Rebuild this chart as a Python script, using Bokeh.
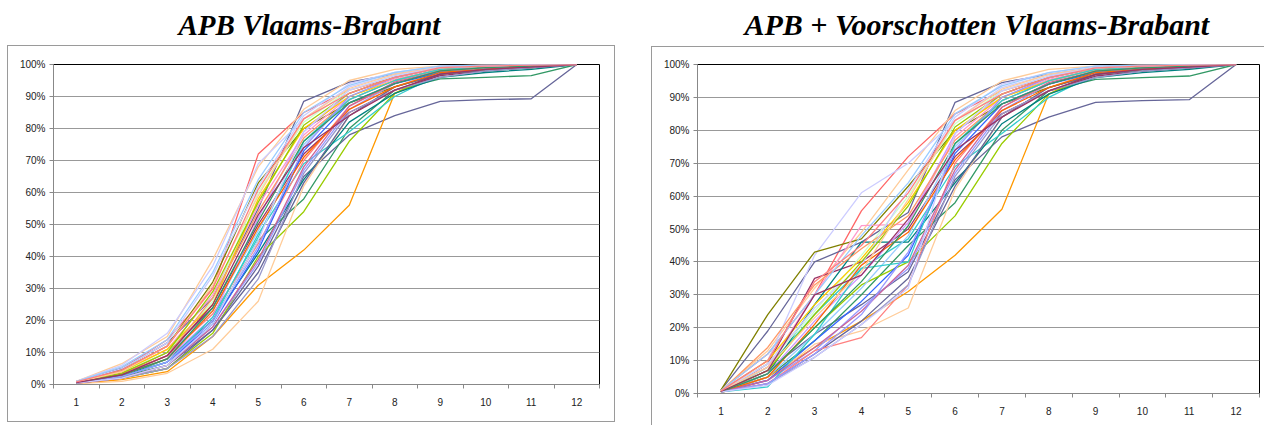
from bokeh.plotting import figure
from bokeh.layouts import row
from bokeh.models import FixedTicker, PrintfTickFormatter, Range1d, Title
from bokeh.embed import file_html
from bokeh.resources import INLINE

months = list(range(1, 13))
half_months = [m - 0.5 for m in range(1, 14)]
y_ticks = list(range(0, 101, 10))

# cumulative share (%) per month, APB only
apb = [
    [0.5, 2, 5, 17, 37, 65, 78, 84, 88.5, 89, 89.3, 100],
    [0.5, 2.5, 6, 19, 45, 58, 80, 92, 95.5, 96, 96.5, 100],
    [0.3, 1.5, 4, 15, 31, 42, 56, 91, 98, 99, 99.5, 100],
    [0.5, 2, 5, 16, 40, 54, 76, 91, 97, 98.5, 99, 100],
    [0.5, 3, 7, 20, 47, 69, 79, 90, 97, 98, 99, 100],
    [1, 5, 14, 30, 72, 85, 92, 96, 99, 99.5, 100, 100],
    [0.3, 1, 3.5, 11, 26, 62, 84, 93, 98, 99, 99.5, 100],
    [1, 5, 13, 27, 55, 88.5, 94.5, 97, 99, 99.5, 99.8, 100],
    [1, 6.5, 15, 39, 68, 86, 95, 98.5, 99.5, 100, 100, 100],
    [1, 6, 16, 37, 69, 83, 93, 97, 99, 99.5, 100, 100],
    [0.8, 4.5, 12, 32, 63, 80, 88, 93, 97, 98.5, 99, 100],
    [0.5, 3.5, 10, 24, 50, 72, 85, 92, 96.5, 98, 99, 100],
    [0.5, 2.5, 8, 20, 41, 64, 82, 91, 96, 97.5, 98.5, 100],
    [0.5, 2.5, 7, 18, 38, 67, 86, 94, 98, 99, 99.5, 100],
    [0.8, 4, 11, 28, 56, 78, 90, 95.5, 98.5, 99.5, 99.8, 100],
    [0.6, 3, 9, 23, 48, 75, 89, 95, 98.5, 99, 99.5, 100],
    [0.7, 4, 10, 26, 60, 82, 92, 96.5, 99, 99.5, 99.8, 100],
    [0.4, 2, 6, 17, 35, 63, 84, 93, 97, 98.5, 99, 100],
    [0.6, 3.5, 9, 22, 44, 70, 87, 94, 98, 99, 99.5, 100],
    [0.5, 3, 8, 21, 52, 79, 91, 96, 99, 99.5, 99.8, 100],
    [0.7, 4, 11, 25, 58, 80, 90, 95, 98.5, 99, 99.5, 100],
    [0.5, 2.5, 7, 19, 42, 73, 88, 94, 97.5, 98.5, 99.5, 100],
    [0.5, 2, 5, 15, 33, 66, 85, 92, 96, 98, 99, 100],
    [0.6, 3, 9, 27, 54, 77, 89, 95, 98.5, 99.5, 99.8, 100],
    [0.8, 5, 13, 34, 62, 84, 94, 97.5, 99.5, 99.8, 100, 100],
    [0.5, 2.5, 7, 21, 46, 76, 89, 95, 98.5, 99, 99.5, 100],
    [0.6, 3.5, 10, 29, 57, 81, 91, 96, 99, 99.5, 99.8, 100],
    [0.5, 3, 8, 23, 49, 71, 86, 93, 97.5, 98.5, 99.5, 100],
    [0.4, 2, 6, 18, 39, 68, 87, 94.5, 98, 99, 99.5, 100],
    [0.9, 5.5, 14, 35, 64, 85, 93.5, 97.5, 99.5, 99.8, 100, 100],
    [0.7, 4, 12, 31, 59, 83, 92.5, 97, 99, 99.5, 99.8, 100],
    [0.5, 2.5, 7, 20, 43, 74, 90, 96, 99, 99.5, 99.8, 100],
    [0.5, 3, 8, 24, 51, 76, 88, 94, 98, 99, 99.5, 100],
    [0.5, 2, 6, 19, 45, 79, 92, 96.5, 99, 99.5, 100, 100],
    [0.6, 3, 9, 25, 53, 74, 84, 92, 97, 98.5, 99.2, 100],
    [0.8, 4.5, 12, 30, 61, 83, 91, 96, 99, 99.5, 99.8, 100],
]

# months 1-5 with voorschotten included; from month 6 on equal to APB
voorschot_start = [
    [0.5, 7, 18, 27, 37],
    [0.5, 5, 16, 30, 45],
    [0.3, 5, 14, 22, 31],
    [0.5, 6, 20, 33, 40],
    [0.5, 8, 24, 38, 47],
    [1, 12, 30, 55.5, 72],
    [0.3, 4, 15, 19, 26],
    [1, 19, 40, 46, 55],
    [1, 13, 32, 49, 68],
    [1, 10, 42, 61, 70],
    [1, 24, 43, 47, 63],
    [0.5, 9, 35, 40, 50],
    [0.5, 6, 27, 46, 46],
    [0.5, 4, 13, 26, 38],
    [0.8, 8, 30, 51, 51.5],
    [0.6, 5, 18, 32, 48],
    [0.7, 9, 25, 42, 60],
    [0.4, 3, 12, 22, 35],
    [0.6, 3, 13, 17, 33],
    [0.5, 6, 22, 36, 52],
    [0.7, 10, 27, 41, 58],
    [0.5, 4, 16, 28, 42],
    [0.5, 3, 11, 21, 33],
    [0.6, 14, 33, 44, 54],
    [0.8, 9, 26, 39, 62],
    [0.5, 2, 18, 38, 40],
    [0.6, 7, 24, 40, 57],
    [0.5, 5, 21, 39, 49],
    [0.4, 4, 14, 25, 39],
    [0.9, 12, 30, 48, 64],
    [0.7, 8, 23, 37, 59],
    [0.5, 3, 12, 24, 43],
    [0.5, 6, 20, 34, 51],
    [0.5, 2.5, 11, 21, 32],
    [0.6, 7, 30, 36, 53],
    [0.8, 10, 34, 45, 61],
]

apb_voorschot = [start + full[5:] for start, full in zip(voorschot_start, apb)]

colors = ["#666699", "#339966", "#FF9900", "#99CC00", "#33CCCC", "#FF6666",
          "#FFCC99", "#666699", "#FFCC99", "#CCCCFF", "#808000", "#993366",
          "#008080", "#9999FF", "#FF99CC", "#99CCFF", "#CCFFCC", "#666699",
          "#FF8080", "#CC99FF", "#FFCC00", "#3366FF", "#9999CC", "#FF9966",
          "#CCCCFF", "#33CCCC", "#99CC00", "#FF6600", "#CC6699", "#99CCFF",
          "#FFCC99", "#9999FF", "#339966", "#CCCCFF", "#993366", "#FF8080"]


def make_chart(title, series, b_left, b_right, b_bottom, t_offset, t_size):
    p = figure(width=632, height=425,
               x_range=Range1d(0.5, 12.5), y_range=Range1d(0, 100),
               output_backend="svg", toolbar_location=None,
               min_border_left=b_left, min_border_right=b_right,
               min_border_bottom=b_bottom, min_border_top=64)
    p.frame_align = False
    for vals, c in zip(series, colors):
        p.line(months, vals, color=c, line_width=1.3)

    # small empty gap between the title and the plot area
    p.add_layout(Title(text=" ", text_font_size="2px", standoff=20), "above")
    p.add_layout(Title(text=title, text_font="Liberation Serif",
                       text_font_style="bold italic", text_font_size=t_size,
                       text_color="black", align="left", offset=t_offset,
                       standoff=0), "above")

    p.border_fill_color = None
    p.background_fill_color = "white"
    p.outline_line_color = "#000000"
    p.outline_line_width = 1

    p.xgrid.grid_line_color = None
    p.ygrid.grid_line_color = "#999999"
    p.ygrid.ticker = FixedTicker(ticks=y_ticks)

    p.xaxis.ticker = FixedTicker(ticks=months, minor_ticks=half_months)
    p.xaxis.major_tick_out = 0
    p.xaxis.major_tick_in = 0
    p.xaxis.minor_tick_out = 4
    p.xaxis.minor_tick_in = 0
    p.xaxis.minor_tick_line_color = "#888888"
    p.xaxis.major_label_standoff = 9

    p.yaxis.ticker = FixedTicker(ticks=y_ticks)
    p.yaxis.formatter = PrintfTickFormatter(format="%d%%")
    p.yaxis.major_tick_out = 4
    p.yaxis.major_tick_in = 0
    p.yaxis.minor_tick_line_color = None
    p.yaxis.major_label_standoff = 4

    for ax in (p.xaxis, p.yaxis):
        ax.axis_line_color = "#888888"
        ax.major_tick_line_color = "#888888"
        ax.major_label_text_font = "Liberation Sans"
        ax.major_label_text_font_size = "10px"
        ax.major_label_text_color = "#222222"
    return p


p1 = make_chart("APB Vlaams-Brabant", apb, 53, 33, 41, 125, "29px")
p2 = make_chart("APB + Voorschotten Vlaams-Brabant", apb_voorschot, 65, 5, 32, 47, "30px")

# grey chart-area frames behind the (transparent) figure borders
g = "linear-gradient(#9a9a9a, #9a9a9a)"
frames = ", ".join([
    g + " 7px 45px / 608px 1px no-repeat",
    g + " 7px 421px / 608px 1px no-repeat",
    g + " 7px 45px / 1px 377px no-repeat",
    g + " 614px 45px / 1px 377px no-repeat",
    g + " 651px 46px / 613px 1px no-repeat",
    g + " 651px 46px / 1px 379px no-repeat",
])

p = row(p1, p2, styles={"background": frames + ", white"})
open("out.html", "w").write(file_html(p, INLINE))
